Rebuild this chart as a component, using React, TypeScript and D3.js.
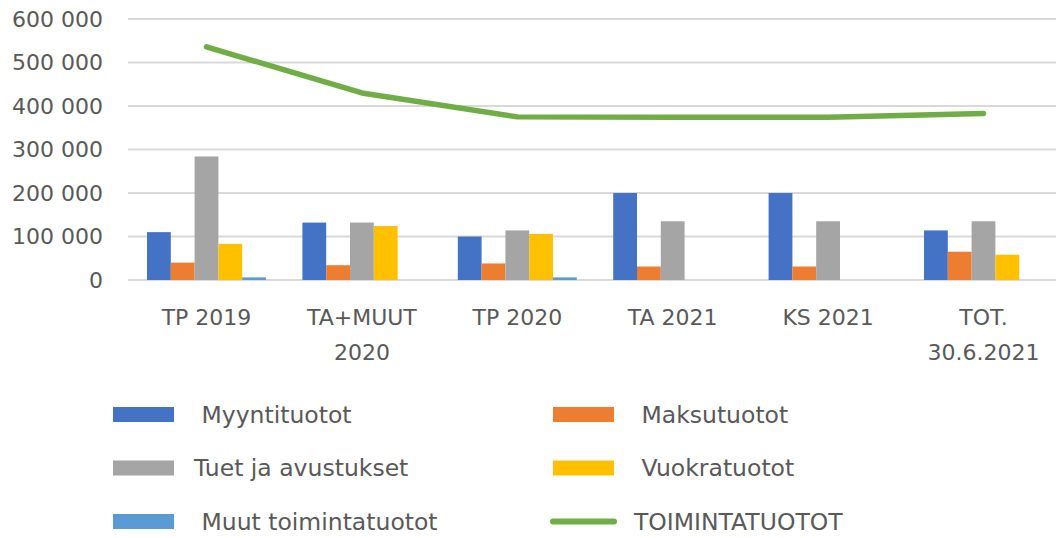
import React from "react";
import * as d3 from "d3";

const categories: string[][] = [
  ["TP 2019"],
  ["TA+MUUT", "2020"],
  ["TP 2020"],
  ["TA 2021"],
  ["KS 2021"],
  ["TOT.", "30.6.2021"],
];

const seriesNames = [
  " Myyntituotot",
  " Maksutuotot",
  "Tuet ja avustukset",
  " Vuokratuotot",
  " Muut toimintatuotot",
];
const seriesColors = ["#4472C4", "#ED7D31", "#A5A5A5", "#FFC000", "#5B9BD5"];

const myyntituotot = [110000, 132000, 100000, 200000, 200000, 114000];
const maksutuotot = [40000, 34000, 38000, 31000, 31000, 65000];
const tuetJaAvustukset = [284000, 132000, 114000, 135000, 135000, 135000];
const vuokratuotot = [83000, 124000, 106000, 0, 0, 58000];
const muutToimintatuotot = [6000, 0, 6000, 0, 0, 0];

const toimintatuotot = [536000, 430000, 375000, 374000, 374000, 383000];
const lineName = "TOIMINTATUOTOT";
const lineColor = "#70AD47";

const yTicks = [0, 100000, 200000, 300000, 400000, 500000, 600000];

const W = 1056;
const H = 538;

export default function App() {
  const seriesValues = [myyntituotot, maksutuotot, tuetJaAvustukset, vuokratuotot, muutToimintatuotot];
  const x = d3.scaleBand<number>().domain(d3.range(categories.length)).range([128.8, 1061.2]).paddingInner(0).paddingOuter(0);
  const inner = d3
    .scaleBand<number>()
    .domain(d3.range(seriesNames.length))
    .range([0, x.bandwidth()])
    .paddingOuter(0.765)
    .paddingInner(0);
  const y = d3.scaleLinear().domain([0, 600000]).range([280, 19]);
  const fmt = (v: number) => d3.format(",")(v).replace(/,/g, " ");
  const line = d3
    .line<number>()
    .x((_, i) => (x(i) as number) + x.bandwidth() / 2)
    .y((d) => y(d));

  const textColor = "#595959";
  const font = "DejaVu Sans";

  const legendItems = [
    { name: seriesNames[0], color: seriesColors[0], type: "rect" },
    { name: seriesNames[1], color: seriesColors[1], type: "rect" },
    { name: seriesNames[2], color: seriesColors[2], type: "rect" },
    { name: seriesNames[3], color: seriesColors[3], type: "rect" },
    { name: seriesNames[4], color: seriesColors[4], type: "rect" },
    { name: lineName, color: lineColor, type: "line" },
  ];

  return (
    <svg
      width={W}
      height={H}
      style={{ position: "absolute", left: 0, top: 0, background: "#fff" }}
      fontFamily={font}
    >
      {yTicks.map((t) => (
        <g key={t}>
          <line x1={128} x2={W} y1={y(t)} y2={y(t)} stroke="#D9D9D9" strokeWidth={1.8} />
          <text
            x={103}
            y={y(t)}
            dy="0.36em"
            textAnchor="end"
            fontSize={22}
            fill={textColor}
          >
            {fmt(t)}
          </text>
        </g>
      ))}
      {seriesValues.map((vals, s) =>
        vals.map((v, i) =>
          v > 0 ? (
            <rect
              key={`${s}-${i}`}
              x={(x(i) as number) + (inner(s) as number)}
              width={inner.bandwidth()}
              y={y(v)}
              height={y(0) - y(v)}
              fill={seriesColors[s]}
            />
          ) : null
        )
      )}
      <path
        d={line(toimintatuotot) || ""}
        fill="none"
        stroke={lineColor}
        strokeWidth={5.5}
        strokeLinecap="round"
        strokeLinejoin="round"
      />
      {categories.map((lines, i) => (
        <text
          key={i}
          x={(x(i) as number) + x.bandwidth() / 2}
          y={325}
          textAnchor="middle"
          fontSize={22}
          fill={textColor}
        >
          {lines.map((l, j) => (
            <tspan key={j} x={(x(i) as number) + x.bandwidth() / 2} dy={j === 0 ? 0 : 35}>
              {l}
            </tspan>
          ))}
        </text>
      ))}
      {legendItems.map((it, k) => {
        const col = k % 2;
        const row = Math.floor(k / 2);
        const sx = col === 0 ? 113 : 553;
        const cy = 414.5 + row * 53.5;
        return (
          <g key={k}>
            {it.type === "rect" ? (
              <rect x={sx} y={cy - 7.5} width={61} height={15} fill={it.color} />
            ) : (
              <line
                x1={sx}
                x2={sx + 61}
                y1={cy}
                y2={cy}
                stroke={it.color}
                strokeWidth={6}
                strokeLinecap="round"
              />
            )}
            <text
              x={sx + 81}
              y={cy}
              dy="0.36em"
              fontSize={23.5}
              fill={textColor}
              style={{ whiteSpace: "pre" }}
            >
              {it.name}
            </text>
          </g>
        );
      })}
    </svg>
  );
}
